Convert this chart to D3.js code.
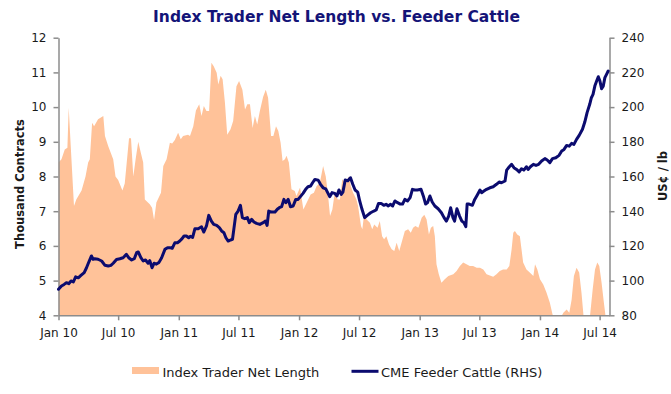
<!DOCTYPE html>
<html>
<head>
<meta charset="utf-8">
<script src="https://cdn.jsdelivr.net/npm/d3@7/dist/d3.min.js"></script>
<style>
  html, body { margin: 0; padding: 0; background: #fff; }
  svg { display: block; font-family: "DejaVu Sans", Verdana, sans-serif; }
</style>
</head>
<body>
<svg id="chart" width="671" height="394"></svg>
<script>
// Index trader net length (thousand contracts), weekly readings
const netLength = [
  ["2010-01-01", 8.4], ["2010-01-10", 8.5], ["2010-01-20", 8.78], ["2010-01-28", 8.83],
  ["2010-02-01", 9.98], ["2010-02-07", 8.9], ["2010-02-11", 8.2], ["2010-02-17", 7.15],
  ["2010-02-24", 7.34], ["2010-03-12", 7.6], ["2010-03-24", 8.0], ["2010-04-01", 8.4],
  ["2010-04-06", 8.5], ["2010-04-13", 9.55], ["2010-04-19", 9.45], ["2010-05-01", 9.65],
  ["2010-05-17", 9.74], ["2010-05-22", 9.17], ["2010-06-01", 8.87], ["2010-06-16", 8.5],
  ["2010-06-23", 8.0], ["2010-07-01", 7.9], ["2010-07-14", 7.6], ["2010-07-21", 7.8],
  ["2010-08-03", 9.1], ["2010-08-09", 9.1], ["2010-08-16", 8.0], ["2010-08-23", 8.5],
  ["2010-08-31", 9.0], ["2010-09-08", 8.68], ["2010-09-15", 8.4], ["2010-09-20", 7.34],
  ["2010-10-05", 7.2], ["2010-10-12", 7.1], ["2010-10-18", 6.75], ["2010-10-25", 7.25],
  ["2010-11-08", 7.53], ["2010-11-15", 8.3], ["2010-11-25", 8.5], ["2010-12-05", 8.97],
  ["2010-12-12", 8.95], ["2010-12-20", 9.05], ["2010-12-30", 9.26],
  ["2011-01-07", 9.07], ["2011-01-14", 9.17], ["2011-01-29", 9.2], ["2011-02-04", 9.17],
  ["2011-02-14", 9.45], ["2011-02-22", 9.9], ["2011-03-04", 10.08], ["2011-03-11", 9.74],
  ["2011-03-18", 10.03], ["2011-03-26", 9.89], ["2011-04-03", 9.89], ["2011-04-10", 11.28],
  ["2011-04-17", 11.18], ["2011-04-26", 10.99], ["2011-05-01", 10.65], ["2011-05-08", 10.9],
  ["2011-05-14", 10.8], ["2011-05-21", 10.13], ["2011-05-28", 9.2], ["2011-06-07", 9.36],
  ["2011-06-15", 9.6], ["2011-06-25", 10.6], ["2011-07-03", 10.75], ["2011-07-13", 10.5],
  ["2011-07-21", 9.93], ["2011-07-28", 10.08], ["2011-08-05", 10.08], ["2011-08-13", 9.4],
  ["2011-08-20", 9.74], ["2011-08-27", 9.5], ["2011-09-04", 9.89], ["2011-09-14", 10.3],
  ["2011-09-22", 10.5], ["2011-09-29", 10.27], ["2011-10-08", 9.17], ["2011-10-15", 9.17],
  ["2011-10-23", 9.45], ["2011-10-30", 9.31], ["2011-11-06", 8.97], ["2011-11-12", 8.45],
  ["2011-11-19", 8.5], ["2011-11-24", 8.6], ["2011-12-01", 8.4], ["2011-12-09", 7.63],
  ["2011-12-19", 7.58], ["2011-12-24", 7.44],
  ["2012-01-04", 7.68], ["2012-01-14", 7.05], ["2012-01-24", 7.24], ["2012-02-05", 7.48],
  ["2012-02-15", 7.53], ["2012-02-23", 7.72], ["2012-03-04", 7.82], ["2012-03-14", 8.3],
  ["2012-03-22", 8.0], ["2012-03-28", 7.55], ["2012-04-04", 6.86], ["2012-04-11", 7.05],
  ["2012-04-19", 7.58], ["2012-04-27", 7.34], ["2012-05-04", 7.34], ["2012-05-11", 7.92],
  ["2012-05-19", 7.82], ["2012-05-27", 7.92], ["2012-05-31", 8.0], ["2012-06-06", 7.72],
  ["2012-06-13", 7.53], ["2012-06-23", 7.34], ["2012-06-28", 7.15], ["2012-07-07", 6.57],
  ["2012-07-11", 6.48], ["2012-07-17", 6.96], ["2012-07-24", 6.76], ["2012-08-03", 6.67],
  ["2012-08-10", 6.48], ["2012-08-16", 6.62], ["2012-08-26", 6.52], ["2012-09-02", 6.72],
  ["2012-09-09", 6.28], ["2012-09-15", 6.19], ["2012-09-22", 6.28], ["2012-09-30", 6.04],
  ["2012-10-08", 5.9], ["2012-10-16", 5.85], ["2012-10-23", 6.09], ["2012-10-31", 5.85],
  ["2012-11-07", 6.09], ["2012-11-17", 6.43], ["2012-11-27", 6.48], ["2012-12-05", 6.38],
  ["2012-12-12", 6.52], ["2012-12-19", 6.57], ["2012-12-28", 6.52],
  ["2013-01-07", 6.81], ["2013-01-15", 6.9], ["2013-01-22", 6.76], ["2013-01-29", 6.33],
  ["2013-02-04", 6.52], ["2013-02-11", 6.57], ["2013-02-16", 6.28], ["2013-02-21", 5.47],
  ["2013-02-28", 5.18], ["2013-03-08", 4.94], ["2013-03-18", 5.04], ["2013-03-29", 5.13],
  ["2013-04-13", 5.18], ["2013-04-23", 5.28], ["2013-05-03", 5.42], ["2013-05-13", 5.52],
  ["2013-05-23", 5.47], ["2013-06-02", 5.42], ["2013-06-12", 5.42], ["2013-06-23", 5.37],
  ["2013-07-03", 5.37], ["2013-07-13", 5.32], ["2013-07-23", 5.18], ["2013-08-02", 5.15],
  ["2013-08-12", 5.11], ["2013-08-22", 5.18], ["2013-09-01", 5.28], ["2013-09-11", 5.32],
  ["2013-09-22", 5.32], ["2013-09-30", 5.42], ["2013-10-07", 5.9], ["2013-10-12", 6.38],
  ["2013-10-17", 6.43], ["2013-10-24", 6.33], ["2013-11-01", 6.28], ["2013-11-06", 5.9],
  ["2013-11-11", 5.52], ["2013-11-21", 5.32], ["2013-12-01", 5.23], ["2013-12-12", 5.13],
  ["2013-12-17", 5.47], ["2013-12-24", 5.32],
  ["2014-01-01", 5.04], ["2014-01-11", 4.89], ["2014-01-21", 4.65], ["2014-01-31", 4.36],
  ["2014-02-08", 4.03], ["2014-02-12", 3.9], ["2014-03-03", 3.9], ["2014-03-13", 4.07],
  ["2014-03-23", 4.17], ["2014-03-31", 4.07], ["2014-04-07", 4.45], ["2014-04-14", 5.13],
  ["2014-04-22", 5.37], ["2014-04-30", 5.23], ["2014-05-07", 4.65], ["2014-05-14", 3.9],
  ["2014-06-01", 3.9], ["2014-06-10", 4.75], ["2014-06-17", 5.32], ["2014-06-24", 5.52],
  ["2014-06-30", 5.42], ["2014-07-07", 4.94], ["2014-07-14", 4.36], ["2014-07-20", 3.9],
  ["2014-07-28", 3.9]
];

// CME feeder cattle futures (US cents per lb)
const feederCattle = [
  ["2010-01-01", 95], ["2010-01-10", 96.9], ["2010-01-18", 97.8], ["2010-01-25", 98.8],
  ["2010-02-01", 98.2], ["2010-02-08", 99.8], ["2010-02-15", 99.2], ["2010-02-22", 102.2],
  ["2010-03-02", 101.6], ["2010-03-10", 103], ["2010-03-20", 104.6], ["2010-03-27", 107.4],
  ["2010-04-03", 110.7], ["2010-04-11", 114.2], ["2010-04-16", 112.3], ["2010-04-21", 112.6],
  ["2010-05-01", 112.3], ["2010-05-12", 111.3], ["2010-05-22", 108.8], ["2010-06-01", 108.4],
  ["2010-06-09", 108.8], ["2010-06-16", 110], ["2010-06-26", 112.2], ["2010-07-06", 112.6],
  ["2010-07-16", 113.2], ["2010-07-26", 115.1], ["2010-08-02", 113.2], ["2010-08-11", 111.9],
  ["2010-08-19", 112.6], ["2010-08-26", 116.1], ["2010-08-31", 116.5], ["2010-09-08", 113.2],
  ["2010-09-15", 111.3], ["2010-09-22", 111.9], ["2010-09-30", 110], ["2010-10-05", 111.5],
  ["2010-10-12", 107.4], ["2010-10-18", 110], ["2010-10-25", 109.5], ["2010-11-02", 110.5],
  ["2010-11-10", 113.2], ["2010-11-20", 118], ["2010-11-28", 119], ["2010-12-05", 119],
  ["2010-12-12", 118.6], ["2010-12-20", 121.8], ["2010-12-28", 121.8],
  ["2011-01-04", 122.8], ["2011-01-11", 124.2], ["2011-01-17", 125.7], ["2011-01-24", 125.7],
  ["2011-01-31", 124.7], ["2011-02-05", 125.5], ["2011-02-12", 124.9], ["2011-02-19", 129.9],
  ["2011-03-01", 129.9], ["2011-03-11", 131], ["2011-03-18", 128], ["2011-03-26", 131.5],
  ["2011-04-02", 137.6], ["2011-04-10", 134.3], ["2011-04-17", 132.4], ["2011-04-26", 131.8],
  ["2011-05-04", 130.5], ["2011-05-11", 128.6], ["2011-05-18", 127.6], ["2011-05-24", 124.7],
  ["2011-05-31", 122.8], ["2011-06-07", 123.4], ["2011-06-13", 123.8], ["2011-06-17", 129.5],
  ["2011-06-23", 138.2], ["2011-06-30", 140.1], ["2011-07-07", 143.4], ["2011-07-13", 136.3],
  ["2011-07-20", 135.7], ["2011-07-28", 136.3], ["2011-08-03", 133.4], ["2011-08-10", 135.3],
  ["2011-08-17", 133.8], ["2011-08-25", 133], ["2011-09-04", 132.4], ["2011-09-14", 133.4],
  ["2011-09-21", 134.3], ["2011-09-26", 131.8], ["2011-10-01", 140.1], ["2011-10-09", 139.5],
  ["2011-10-20", 139.5], ["2011-10-27", 141.1], ["2011-11-02", 142], ["2011-11-09", 142.6],
  ["2011-11-16", 146.8], ["2011-11-22", 144.9], ["2011-11-29", 146.8], ["2011-12-06", 142.6],
  ["2011-12-14", 143], ["2011-12-22", 146.8], ["2011-12-29", 146.8],
  ["2012-01-05", 148.4], ["2012-01-13", 150.3], ["2012-01-21", 152.6], ["2012-01-28", 154.1],
  ["2012-02-05", 154.5], ["2012-02-11", 156.4], ["2012-02-18", 158.3], ["2012-02-28", 157.9],
  ["2012-03-06", 155.5], ["2012-03-14", 153.5], ["2012-03-22", 152.9], ["2012-03-27", 151],
  ["2012-04-03", 148.4], ["2012-04-10", 150.7], ["2012-04-18", 150.3], ["2012-04-25", 148.8],
  ["2012-05-01", 152.2], ["2012-05-08", 149.7], ["2012-05-13", 151], ["2012-05-20", 158],
  ["2012-05-28", 157.5], ["2012-06-05", 159.3], ["2012-06-12", 155.5], ["2012-06-19", 152.2],
  ["2012-06-27", 151], ["2012-07-03", 145.9], ["2012-07-10", 141.1], ["2012-07-18", 136.3],
  ["2012-07-26", 137.6], ["2012-08-05", 139.1], ["2012-08-15", 140.1], ["2012-08-22", 140.7],
  ["2012-08-29", 144.5], ["2012-09-06", 144.5], ["2012-09-14", 143.4], ["2012-09-21", 144],
  ["2012-09-28", 143], ["2012-10-04", 144], ["2012-10-11", 143], ["2012-10-18", 145.9],
  ["2012-10-26", 144.9], ["2012-11-03", 144.1], ["2012-11-10", 144.1], ["2012-11-17", 146.8],
  ["2012-11-25", 145.9], ["2012-12-03", 147.8], ["2012-12-10", 152.6], ["2012-12-17", 152.2],
  ["2012-12-25", 152.2],
  ["2013-01-05", 152.6], ["2013-01-12", 148.8], ["2013-01-19", 144.1], ["2013-01-25", 145],
  ["2013-02-01", 148.8], ["2013-02-08", 145.3], ["2013-02-16", 143], ["2013-02-26", 141.4],
  ["2013-03-08", 139.1], ["2013-03-16", 136.3], ["2013-03-23", 134.3], ["2013-03-30", 137.2],
  ["2013-04-05", 142], ["2013-04-12", 136.3], ["2013-04-17", 134.3], ["2013-04-24", 141.4],
  ["2013-05-02", 137.2], ["2013-05-09", 134.3], ["2013-05-15", 133.4], ["2013-05-21", 131.1],
  ["2013-05-25", 144.1], ["2013-05-31", 144.1], ["2013-06-10", 143.4], ["2013-06-17", 146.8],
  ["2013-06-24", 149.1], ["2013-07-03", 152.2], ["2013-07-08", 150.7], ["2013-07-15", 151.6],
  ["2013-07-23", 152.6], ["2013-08-02", 153.5], ["2013-08-12", 154.1], ["2013-08-22", 155.5],
  ["2013-08-30", 156.8], ["2013-09-06", 156.4], ["2013-09-17", 157.4], ["2013-09-22", 163.7],
  ["2013-09-30", 165.6], ["2013-10-07", 167], ["2013-10-14", 165.1], ["2013-10-22", 164.1],
  ["2013-10-30", 162.6], ["2013-11-06", 164.5], ["2013-11-13", 163.7], ["2013-11-21", 165.6],
  ["2013-11-26", 164.1], ["2013-12-03", 165.6], ["2013-12-12", 167], ["2013-12-20", 166.4],
  ["2013-12-28", 167],
  ["2014-01-06", 168.9], ["2014-01-16", 170.3], ["2014-01-23", 169.5], ["2014-01-31", 168],
  ["2014-02-08", 170.3], ["2014-02-18", 170.8], ["2014-02-28", 172.2], ["2014-03-08", 174.7],
  ["2014-03-15", 175.6], ["2014-03-23", 177.9], ["2014-03-31", 177.5], ["2014-04-07", 179.1],
  ["2014-04-14", 178.5], ["2014-04-22", 181.4], ["2014-04-30", 183.7], ["2014-05-10", 187.2],
  ["2014-05-17", 191.4], ["2014-05-24", 196.8], ["2014-06-01", 201.6], ["2014-06-06", 205.4],
  ["2014-06-11", 207.3], ["2014-06-17", 212.5], ["2014-06-22", 215], ["2014-06-27", 217.5],
  ["2014-07-02", 215], ["2014-07-07", 210.6], ["2014-07-12", 212.1], ["2014-07-17", 217],
  ["2014-07-22", 218.9], ["2014-07-27", 220.8]
];

const xTickLabels = ["Jan 10", "Jul 10", "Jan 11", "Jul 11", "Jan 12", "Jul 12",
                     "Jan 13", "Jul 13", "Jan 14", "Jul 14"];
const leftTicks = [4, 5, 6, 7, 8, 9, 10, 11, 12];
const rightTicks = [80, 100, 120, 140, 160, 180, 200, 220, 240];

const titleText = "Index Trader Net Length vs. Feeder Cattle";
const leftAxisTitle = "Thousand Contracts";
const rightAxisTitle = "US\u00a2 / lb";
const seriesNames = ["Index Trader Net Length", "CME Feeder Cattle (RHS)"];

// ---- layout & scales ----
const plot = { left: 58.5, right: 609.5, top: 37.7, bottom: 315.3 };
const AREA_FILL = "#ffc299";
const LINE_COLOR = "#0b0b6f";
const AXIS_COLOR = "#8c8c8c";
const TEXT_COLOR = "#1a1a1a";

const parseDay = d3.timeParse("%Y-%m-%d");
const parseTick = d3.timeParse("%b %y");

const netData = netLength.map(([d, v]) => ({ date: parseDay(d), v }));
const cattleData = feederCattle.map(([d, v]) => ({ date: parseDay(d), v }));

const x = d3.scaleTime()
  .domain([new Date(2010, 0, 1), new Date(2014, 6, 31)])
  .range([plot.left, plot.right]);
const yL = d3.scaleLinear().domain([4, 12]).range([plot.bottom, plot.top]);
const yR = d3.scaleLinear().domain([80, 240]).range([plot.bottom, plot.top]);

const svg = d3.select("#chart");

svg.append("defs").append("clipPath").attr("id", "plot-clip")
  .append("rect")
  .attr("x", plot.left).attr("y", plot.top)
  .attr("width", plot.right - plot.left)
  .attr("height", plot.bottom - plot.top);

// net length area
svg.append("path")
  .datum(netData)
  .attr("clip-path", "url(#plot-clip)")
  .attr("fill", AREA_FILL)
  .attr("d", d3.area()
    .x(d => x(d.date))
    .y0(yL(4))
    .y1(d => yL(d.v)));

// axes
function styleAxis(g) {
  g.selectAll(".domain").attr("stroke", AXIS_COLOR).attr("stroke-width", 1.5);
  g.selectAll(".tick line").attr("stroke", AXIS_COLOR).attr("stroke-width", 1.5);
  g.selectAll(".tick text")
    .attr("fill", TEXT_COLOR)
    .style("font-family", "'DejaVu Sans', Verdana, sans-serif")
    .style("font-size", "12px");
}

svg.append("g")
  .attr("transform", `translate(${plot.left},0)`)
  .call(d3.axisLeft(yL).tickValues(leftTicks).tickSize(5).tickSizeOuter(0).tickPadding(7))
  .call(styleAxis);

svg.append("g")
  .attr("transform", `translate(${plot.right},0)`)
  .call(d3.axisRight(yR).tickValues(rightTicks).tickSize(5).tickSizeOuter(0).tickPadding(7))
  .call(styleAxis);

svg.append("g")
  .attr("transform", `translate(0,${plot.bottom})`)
  .call(d3.axisBottom(x)
    .tickValues(xTickLabels.map(parseTick))
    .tickFormat((d, i) => xTickLabels[i])
    .tickSize(5).tickSizeOuter(0).tickPadding(8))
  .call(styleAxis);

// feeder cattle line
svg.append("path")
  .datum(cattleData)
  .attr("fill", "none")
  .attr("stroke", LINE_COLOR)
  .attr("stroke-width", 3)
  .attr("stroke-linejoin", "round")
  .attr("stroke-linecap", "round")
  .attr("d", d3.line().x(d => x(d.date)).y(d => yR(d.v)));

// titles
svg.append("text")
  .attr("x", 336.5).attr("y", 22)
  .attr("text-anchor", "middle")
  .attr("fill", "#141478")
  .style("font-size", "15.5px").style("font-weight", "bold")
  .text(titleText);

svg.append("text")
  .attr("transform", "translate(24,184) rotate(-90)")
  .attr("text-anchor", "middle")
  .attr("fill", TEXT_COLOR)
  .style("font-size", "11.5px").style("font-weight", "bold")
  .text(leftAxisTitle);

svg.append("text")
  .attr("transform", "translate(667,176) rotate(-90)")
  .attr("text-anchor", "middle")
  .attr("fill", TEXT_COLOR)
  .style("font-size", "11.5px").style("font-weight", "bold")
  .text(rightAxisTitle);

// legend
const legend = svg.append("g").style("font-size", "13px").attr("fill", TEXT_COLOR);
legend.append("rect")
  .attr("x", 132).attr("y", 367).attr("width", 27).attr("height", 7)
  .attr("fill", AREA_FILL);
legend.append("text").attr("x", 162.5).attr("y", 376.5).text(seriesNames[0]);
legend.append("line")
  .attr("x1", 351.5).attr("x2", 378.5).attr("y1", 371.3).attr("y2", 371.3)
  .attr("stroke", LINE_COLOR).attr("stroke-width", 3);
legend.append("text").attr("x", 381).attr("y", 376.5).text(seriesNames[1]);
</script>
</body>
</html>
